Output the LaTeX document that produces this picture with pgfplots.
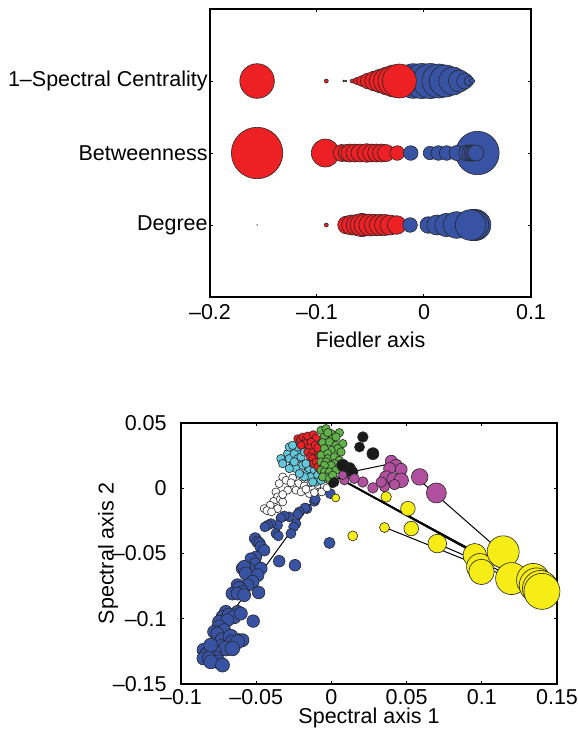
\documentclass[border=0pt]{standalone}
\usepackage{fontspec}
\setmainfont{Liberation Sans}
\usepackage{pgfplots}
\pgfplotsset{compat=1.18}

\definecolor{mred}{RGB}{237,32,36}
\definecolor{mblue}{RGB}{56,83,164}
\definecolor{myellow}{RGB}{246,236,22}
\definecolor{mmagenta}{RGB}{178,80,160}
\definecolor{mgreen}{RGB}{96,178,72}
\definecolor{mcyan}{RGB}{100,200,220}
\definecolor{mblack}{RGB}{26,26,26}

% bubbles: r is the radius in reference pixels (1 px = 0.5 pt)
\pgfplotsset{
  bub/.style={scatter, only marks, mark=*,
    scatter/use mapped color={draw=black!85, fill=#1},
    visualization depends on={0.5*\thisrow{r} \as \rad},
    scatter/@pre marker code/.append style={/tikz/mark size=\rad},
    mark options={line width=0.3pt}},
  edge/.style={black, line width=0.5pt, no marks},
  matlab/.style={
    scale only axis,
    axis line style={line width=0.6pt},
    tick style={line width=0.5pt, black},
    tick align=inside,
    major tick length=1.7pt,
    font=\fontsize{10.75}{12}\selectfont,
    tick label style={font=\fontsize{10.75}{12}\selectfont},
  },
}

\begin{document}
\begin{tikzpicture}
\useasboundingbox (0,0) rectangle (289pt,-367pt);

% ---------- top panel ----------
\begin{axis}[matlab,
  at={(105pt,-148.5pt)}, anchor=south west,
  width=160.5pt, height=144pt,
  xmin=-0.2, xmax=0.1, ymin=0, ymax=4,
  xtick={-0.2,-0.1,0,0.1},
  xticklabels={–0.2,–0.1,0,0.1},
  ytick={1,2,3},
  yticklabels={Degree,Betweenness,1–Spectral Centrality},
  xticklabel style={anchor=center, yshift=-7.5pt},
  yticklabel style={anchor=east, inner xsep=0pt, xshift=-1pt},
  xlabel={Fiedler axis},
  xlabel style={at={(axis description cs:0.5,0)}, anchor=center, yshift=-21.5pt},
]
% 1-Spectral Centrality
\addplot[bub=mblue] table {
x y r
-0.010 3 17.3
-0.002 3 17.5
0.006 3 17.5
0.014 3 17
0.020 3 16
0.027 3 14
0.033 3 11
0.038 3 8
0.042 3 5
0.045 3 2.5
};
\addplot[bub=mred] table {
x y r
-0.156 3 17.3
-0.0913 3 2
-0.075 3 0.9
-0.073 3 0.9
-0.067 3 2
-0.063 3 3.5
-0.058 3 5.5
-0.052 3 8
-0.046 3 10
-0.040 3 12
-0.034 3 14
-0.028 3 16
-0.023 3 17
};
% Betweenness
\addplot[bub=mred] table {
x y r
-0.156 2 25.7
-0.0922 2 14
-0.0769 2 8.5
-0.0722 2 8.5
-0.0692 2 9
-0.0645 2 9
-0.0598 2 9
-0.0536 2 9.3
-0.0489 2 9
-0.0442 2 9
-0.0396 2 9
-0.0355 2 8.5
-0.0250 2 7.3
};
\addplot[bub=mblue] table {
x y r
0.0500 2 21.7
-0.0124 2 7.3
0.0056 2 6.7
0.0134 2 7.3
0.0212 2 7.3
0.0305 2 7.5
0.0400 2 8
0.0430 2 8
0.0450 2 8
0.0470 2 8
0.0485 2 8
};
% Degree
\addplot[bub=mred] table {
x y r
-0.156 1 0.3
-0.0913 1 2
-0.0722 1 9
-0.0676 1 10
-0.0629 1 10.5
-0.0582 1 11.7
-0.0551 1 11
-0.0505 1 11
-0.0458 1 10.7
-0.0411 1 10.7
-0.0364 1 10.5
-0.0318 1 10
-0.0255 1 9.3
};
\addplot[bub=mblue] table {
x y r
-0.0130 1 7.3
0.0040 1 8.3
0.0120 1 10
0.0210 1 11.7
0.0305 1 13.3
0.0470 1 15.3
0.0480 1 15.5
0.0460 1 15.5
0.0436 1 15.3
};
\end{axis}

% ---------- bottom panel ----------
\begin{axis}[matlab,
  at={(90.5pt,-342pt)}, anchor=south west,
  width=188pt, height=130.5pt,
  xmin=-0.1, xmax=0.15, ymin=-0.15, ymax=0.05,
  xtick={-0.1,-0.05,0,0.05,0.1,0.15},
  xticklabels={–0.1,–0.05,0,0.05,0.1,0.15},
  ytick={-0.15,-0.1,-0.05,0,0.05},
  yticklabels={–0.15,–0.1,–0.05,0,0.05},
  xticklabel style={anchor=center, yshift=-6.5pt},
  yticklabel style={anchor=east, inner xsep=0pt, xshift=-7pt},
  xlabel={Spectral axis 1},
  xlabel style={at={(axis description cs:0.5,0)}, anchor=center, yshift=-17pt},
  ylabel={Spectral axis 2},
  ylabel style={at={(axis description cs:0,0.5)}, anchor=center, yshift=36.5pt},
]
\addplot[bub=mblue] table {
x y r
-0.0007 -0.0041 5
-0.0113 -0.0100 5
-0.0107 -0.0084 5
-0.0162 -0.0156 5
-0.0176 -0.0151 5
-0.0213 -0.0181 5
-0.0224 -0.0199 5
-0.0280 -0.0219 5
-0.0313 -0.0212 5
-0.0336 -0.0227 5
-0.0236 -0.0271 5
-0.0358 -0.0283 5
-0.0402 -0.0271 5
-0.0424 -0.0283 5
-0.0442 -0.0296 5
-0.0251 -0.0296 5
-0.0269 -0.0347 5
-0.0369 -0.0347 5
-0.0353 -0.0365 5
-0.0507 -0.0385 5.8
-0.0491 -0.0411 5.8
-0.0478 -0.0424 5.8
-0.0469 -0.0449 5.8
-0.0447 -0.0475 5.8
-0.0013 -0.0419 5.6
-0.0347 -0.0559 5.8
-0.0242 -0.0590 5.8
-0.0502 -0.0526 5.8
-0.0536 -0.0539 5.8
-0.0507 -0.0577 5.8
-0.0553 -0.0615 6.3
-0.0591 -0.0615 6.3
-0.0469 -0.0615 6.3
-0.0580 -0.0602 6.5
-0.0569 -0.0653 6.5
-0.0491 -0.0666 6.5
-0.0524 -0.0717 6.5
-0.0558 -0.0743 6.5
-0.0624 -0.0743 6.5
-0.0613 -0.0768 7
-0.0658 -0.0807 6.5
-0.0591 -0.0794 6.5
-0.0624 -0.0807 6.5
-0.0580 -0.0819 6.5
-0.0484 -0.0799 6.3
-0.0702 -0.0947 6.5
-0.0624 -0.0947 6.5
-0.0724 -0.0985 6.5
-0.0680 -0.0972 7
-0.0647 -0.0985 7
-0.0602 -0.0960 6.5
-0.0520 -0.1018 6.3
-0.0747 -0.1023 6.5
-0.0691 -0.1011 6.5
-0.0747 -0.1062 7
-0.0780 -0.1100 6.5
-0.0713 -0.1087 6.5
-0.0758 -0.1113 6.5
-0.0724 -0.1164 7.5
-0.0669 -0.1138 7.5
-0.0613 -0.1164 6.5
-0.0591 -0.1164 6.5
-0.0658 -0.1177 7
-0.0624 -0.1177 7
-0.0736 -0.1215 7.3
-0.0702 -0.1228 7.5
-0.0658 -0.1228 7.3
-0.0813 -0.1228 7.5
-0.0847 -0.1240 7
-0.0780 -0.1253 7.3
-0.0824 -0.1266 7
-0.0836 -0.1279 6.5
-0.0851 -0.1304 6.5
-0.0769 -0.1304 7.5
-0.0813 -0.1304 7
-0.0751 -0.1330 7
-0.0802 -0.1330 7
-0.0724 -0.1355 7
-0.0802 -0.1202 7
};
\addplot[bub=white] table {
x y r
-0.0324 0.0087 4
-0.0347 0.0036 4
-0.0302 0.0061 4
-0.0258 0.0079 4
-0.0191 0.0061 4
-0.0158 0.0036 4
-0.0220 0.0036 4
-0.0180 0.0018 4
-0.0136 0.0043 4
-0.0091 0.0028 4
-0.0047 0.0018 4
-0.0258 0.0010 4
-0.0369 -0.0028 4
-0.0291 -0.0015 4
-0.0236 -0.0015 4
-0.0202 -0.0028 4
-0.0147 -0.0041 4
-0.0169 -0.0008 4
-0.0113 -0.0033 4
-0.0064 -0.0028 4
-0.0029 0.0003 4
-0.0358 -0.0066 4
-0.0384 -0.0100 4
-0.0340 -0.0084 4
-0.0324 -0.0105 4
-0.0380 -0.0143 4
-0.0358 -0.0156 4
-0.0407 -0.0130 4
-0.0447 -0.0156 4
-0.0429 -0.0171 4
-0.0398 -0.0181 4
-0.0324 -0.0048 4
-0.0269 0.0043 4
};
\addplot[bub=mcyan] table {
x y r
-0.0291 0.0265 4.2
-0.0336 0.0227 4.2
-0.0280 0.0316 4.2
-0.0213 0.0278 4.2
-0.0324 0.0189 4.2
-0.0280 0.0227 4.2
-0.0247 0.0265 4.2
-0.0224 0.0316 4.2
-0.0258 0.0329 4.2
-0.0224 0.0227 4.2
-0.0202 0.0240 4.2
-0.0258 0.0176 4.2
-0.0191 0.0176 4.2
-0.0236 0.0151 4.2
-0.0280 0.0151 4.2
-0.0158 0.0125 4.2
-0.0147 0.0151 4.2
-0.0113 0.0138 4.2
-0.0136 0.0087 4.2
-0.0180 0.0087 4.2
-0.0091 0.0100 4.2
-0.0080 0.0151 4.2
-0.0124 0.0189 4.2
-0.0169 0.0189 4.2
-0.0180 0.0278 4.2
-0.0213 0.0112 4.2
-0.0102 0.0048 4.2
-0.0124 0.0048 4.2
-0.0069 0.0061 4.2
-0.0247 0.0202 4.2
};
\addplot[bub=mred] table {
x y r
-0.0224 0.0380 4
-0.0207 0.0368 4
-0.0191 0.0393 4
-0.0169 0.0375 4
-0.0158 0.0401 4
-0.0120 0.0411 4
-0.0102 0.0385 4
-0.0176 0.0342 4
-0.0136 0.0355 4
-0.0069 0.0342 4
-0.0202 0.0329 4
-0.0147 0.0309 4
-0.0109 0.0329 4
-0.0158 0.0278 4
-0.0124 0.0273 4
-0.0087 0.0278 4
-0.0109 0.0235 4
-0.0140 0.0240 4
-0.0124 0.0227 4
-0.0080 0.0240 4
-0.0118 0.0189 4
-0.0080 0.0202 4
-0.0102 0.0202 4
-0.0091 0.0163 4
-0.0091 0.0309 4
};
\addplot[bub=mgreen] table {
x y r
-0.0069 0.0444 4.2
-0.0036 0.0457 4.2
-0.0002 0.0419 4.2
0.0053 0.0426 4.2
-0.0047 0.0393 4.2
0.0009 0.0380 4.2
-0.0058 0.0350 4.2
-0.0013 0.0355 4.2
0.0031 0.0393 4.2
0.0031 0.0329 4.2
0.0076 0.0342 4.2
0.0042 0.0304 4.2
0.0064 0.0278 4.2
-0.0002 0.0291 4.2
-0.0047 0.0304 4.2
-0.0069 0.0253 4.2
-0.0024 0.0265 4.2
-0.0024 0.0227 4.2
0.0020 0.0240 4.2
0.0053 0.0214 4.2
-0.0069 0.0202 4.2
-0.0036 0.0202 4.2
0.0020 0.0189 4.2
-0.0002 0.0176 4.2
-0.0047 0.0176 4.2
0.0053 0.0163 4.2
-0.0069 0.0138 4.2
-0.0047 0.0125 4.2
-0.0013 0.0125 4.2
0.0031 0.0138 4.2
-0.0036 0.0087 4.2
-0.0058 0.0087 4.2
-0.0013 0.0074 4.2
0.0009 0.0100 4.2
-0.0024 0.0426 4.2
};
\addplot[bub=mblack] table {
x y r
0.0209 0.0393 5.3
0.0187 0.0316 5
0.0276 0.0265 6
0.0120 0.0151 6
0.0076 0.0176 6
0.0087 0.0087 4.7
0.0020 0.0048 4.7
0.0009 0.0036 4.3
0.0142 0.0125 5.3
};
\addplot[bub=mmagenta] table {
x y r
0.0398 0.0207 6
0.0431 0.0176 6
0.0464 0.0145 6
0.0387 0.0151 6
0.0364 0.0082 6.7
0.0409 0.0074 6
0.0464 0.0061 7.3
0.0587 0.0087 8.3
0.0698 -0.0036 10
0.0276 0.0003 5.3
0.0209 0.0048 5.3
0.0153 0.0074 5
0.0087 0.0061 4.7
0.0076 0.0100 4.3
0.0353 0.0010 5
0.0331 0.0048 5.3
0.0420 0.0028 5.3
};
\addplot[bub=myellow] table {
x y r
0.0029 -0.0074 4
0.0142 -0.0365 5
0.0353 -0.0301 5
0.0364 -0.0066 5.3
0.0509 -0.0156 7.3
0.0531 -0.0309 7.3
0.0704 -0.0424 9.3
0.0953 -0.0513 11.7
0.0987 -0.0602 13.3
0.0998 -0.0641 12.7
0.1142 -0.0487 16
0.1198 -0.0692 16
0.1342 -0.0704 16.7
0.1364 -0.0743 17.3
0.1390 -0.0768 18
0.1400 -0.0790 18
};
% edges
\addplot[edge] coordinates {(-0.0753,-0.1100) (-0.0024,0.0061)};
\addplot[edge] coordinates {(0.0020,0.0100) (0.1420,-0.0781)};
\addplot[edge] coordinates {(0.0042,0.0079) (0.1416,-0.0789)};
\addplot[edge] coordinates {(0.0064,0.0069) (0.1409,-0.0768)};
\addplot[edge] coordinates {(0.0082,0.0054) (0.1420,-0.0794)};
\addplot[edge] coordinates {(0.0587,0.0061) (0.1420,-0.0781)};
\addplot[edge] coordinates {(0.0358,-0.0301) (0.1420,-0.0794)};
\addplot[edge] coordinates {(0.0109,0.0120) (0.0398,0.0189)};
\addplot[edge] coordinates {(0.0704,-0.0424) (0.1420,-0.0781)};
\addplot[edge] coordinates {(0.0953,-0.0513) (0.1420,-0.0781)};
\end{axis}
\end{tikzpicture}
\end{document}
